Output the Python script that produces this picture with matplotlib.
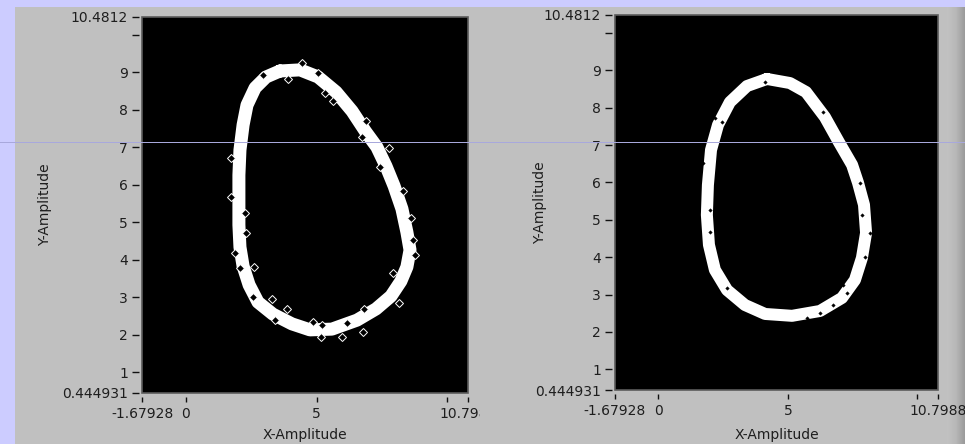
import numpy as np
import matplotlib
matplotlib.use('Agg')
import matplotlib.pyplot as plt
from matplotlib.transforms import Bbox, TransformedBbox
from matplotlib.patches import Rectangle
from matplotlib.lines import Line2D

# ---------------- data ----------------
x_min, x_max = -1.67928, 10.7988
y_min, y_max = 0.444931, 10.4812
x_ticks = [x_min, 0, 5, 10, x_max]
x_tick_labels = ['-1.67928', '0', '5', '', '10.7988']
y_ticks = [y_min, 1, 2, 3, 4, 5, 6, 7, 8, 9, 10, y_max]
y_tick_labels = ['0.444931', '1', '2', '3', '4', '5', '6', '7', '8', '9', '', '10.4812']

# left graph: loop centre line
left_x = [3.60, 4.37, 5.06, 5.75, 6.36, 6.86, 7.31, 7.66, 7.97, 8.27, 8.46, 8.58,
          8.46, 8.23, 7.85, 7.28, 6.55, 5.59, 4.75, 4.06, 3.33, 2.76, 2.42, 2.19,
          2.07, 2.03, 2.03, 2.03, 2.07, 2.19, 2.34, 2.65, 3.07]
left_y = [9.04, 9.07, 8.88, 8.48, 7.97, 7.44, 7.01, 6.50, 5.97, 5.36, 4.74, 4.26,
          3.81, 3.43, 3.03, 2.69, 2.39, 2.15, 2.13, 2.29, 2.55, 2.87, 3.33, 3.83,
          4.34, 4.93, 5.60, 6.26, 6.93, 7.60, 8.13, 8.59, 8.88]
# left graph: scattered points off the band
left_out_x = [1.73, 1.73, 2.26, 2.30, 2.95, 3.91, 4.44, 5.06, 5.33, 5.63, 6.89, 6.74,
              7.77, 7.43, 8.31, 8.62, 1.88, 2.07, 2.61, 2.57, 3.30, 3.87, 3.41, 4.86,
              5.21, 5.17, 5.98, 6.17, 6.82, 6.78, 7.93, 8.16, 8.77, 8.69]
left_out_y = [6.72, 5.68, 5.25, 4.72, 8.93, 8.83, 9.25, 8.99, 8.45, 8.24, 7.70, 7.28,
              6.98, 6.48, 5.84, 5.12, 4.18, 3.78, 3.81, 3.01, 2.95, 2.69, 2.39, 2.34,
              2.26, 1.94, 1.94, 2.31, 2.69, 2.07, 3.65, 2.85, 4.13, 4.53]

# right graph: loop centre line
right_x = [4.19, 5.08, 5.70, 6.43, 6.97, 7.48, 7.71, 7.94, 8.02, 7.86, 7.59, 7.09,
           6.24, 5.16, 4.12, 3.34, 2.65, 2.18, 1.95, 1.87, 1.91, 2.03, 2.30, 2.76, 3.42]
right_y = [8.77, 8.66, 8.42, 7.75, 7.08, 6.47, 5.99, 5.40, 4.65, 3.98, 3.39, 2.91,
           2.56, 2.43, 2.48, 2.72, 3.12, 3.66, 4.33, 5.13, 5.93, 6.87, 7.54, 8.15, 8.58]
# right graph: specks inside the band
right_out_x = [4.12, 6.36, 2.18, 2.45, 1.72, 1.99, 1.99, 7.78, 7.86, 8.17, 7.98,
               7.13, 7.28, 6.74, 5.74, 2.65, 6.24]
right_out_y = [8.69, 7.89, 7.73, 7.62, 6.52, 5.26, 4.67, 5.99, 5.13, 4.65, 4.01,
               3.26, 3.04, 2.72, 2.37, 3.18, 2.51]

# ---------------- figure ----------------
W, H = 965, 444
fig = plt.figure(figsize=(W / 100, H / 100), dpi=100, facecolor='#CCCCFF')
plt.rcParams['font.family'] = ['DejaVu Sans']

# grey panel
fig.add_artist(Rectangle((15 / W, 0), 1 - 15 / W, 1 - 7 / H, transform=fig.transFigure,
                         facecolor='#C0C0C0', edgecolor='none', zorder=0))
# right edge gradient strip
gax = fig.add_axes([947 / W, 0, 18 / W, 1 - 7 / H], zorder=0.5)
grad = np.linspace(0, 1, 64).reshape(1, -1)
gax.imshow(grad, aspect='auto', cmap=matplotlib.colors.LinearSegmentedColormap.from_list(
    'g', ['#C2C2C2', '#B8B8B8', '#9A9A9A']), extent=[0, 1, 0, 1])
gax.set_axis_off()

PX = 0.72  # points per pixel


def make_graph(rect, lx, ly, ox, oy, lw, mkw, ylabel_x, xlabel_y, clip_right):
    ax = fig.add_axes(rect, zorder=1)
    ax.set_facecolor('black')
    ax.set_xlim(x_min, x_max)
    ax.set_ylim(y_min, y_max)
    for s in ax.spines.values():
        s.set_visible(False)
    ax.spines['left'].set_position(('outward', 3 * PX))
    ax.spines['bottom'].set_position(('outward', 4 * PX))
    ax.add_patch(Rectangle((0, 0), 1, 1, transform=ax.transAxes, fill=False,
                           edgecolor='#5C5C5C', lw=1.2, clip_on=False, zorder=5))
    ax.set_xticks(x_ticks)
    ax.set_xticklabels(x_tick_labels)
    ax.set_yticks(y_ticks)
    ax.set_yticklabels(y_tick_labels)
    ax.tick_params(axis='y', direction='out', length=7 * PX, width=1.0, color='#111111',
                   pad=4 * PX, labelsize=10, labelcolor='#1E1E1E')
    ax.tick_params(axis='x', direction='out', length=5 * PX, width=1.0, color='#111111',
                   pad=5 * PX, labelsize=10, labelcolor='#1E1E1E')
    ax.set_ylabel('Y-Amplitude', fontsize=10, color='#1E1E1E')
    ax.set_xlabel('X-Amplitude', fontsize=10, color='#1E1E1E')
    ax.yaxis.set_label_coords(ylabel_x, 0.5)
    ax.xaxis.set_label_coords(0.5, xlabel_y)

    cx = np.append(lx, lx[0])
    cy = np.append(ly, ly[0])
    ax.plot(cx, cy, color='white', lw=lw, solid_joinstyle='round', solid_capstyle='round')
    ax.plot(ox, oy, ls='none', **mkw)

    if clip_right is not None:
        lab = ax.xaxis.get_major_ticks()[-1].label1
        lab.set_clip_on(True)
        lab.set_clip_box(TransformedBbox(Bbox([[0, 0], [clip_right / W, 1]]), fig.transFigure))
    return ax


ax1 = make_graph([142 / W, 1 - 393 / H, 326 / W, 376 / H], left_x, left_y,
                 left_out_x, left_out_y, lw=13 * PX,
                 mkw=dict(marker='D', ms=3.6, mfc='black', mec='white', mew=0.7),
                 ylabel_x=(52 - 142) / 326, xlabel_y=-35 / 376, clip_right=480)
ax2 = make_graph([615 / W, 1 - 390 / H, 323 / W, 375 / H], right_x, right_y,
                 right_out_x, right_out_y, lw=12 * PX,
                 mkw=dict(marker='D', ms=1.8, mfc='black', mec='black', mew=0.3),
                 ylabel_x=(547 - 615) / 323, xlabel_y=-38 / 375, clip_right=None)

# thin horizontal guide line across the screenshot
fig.add_artist(Line2D([0, 1], [1 - 142 / H, 1 - 142 / H], transform=fig.transFigure,
                      color='#A8A8DC', lw=1 * PX, zorder=20))

fig.savefig('out.png', dpi=100, facecolor=fig.get_facecolor())
